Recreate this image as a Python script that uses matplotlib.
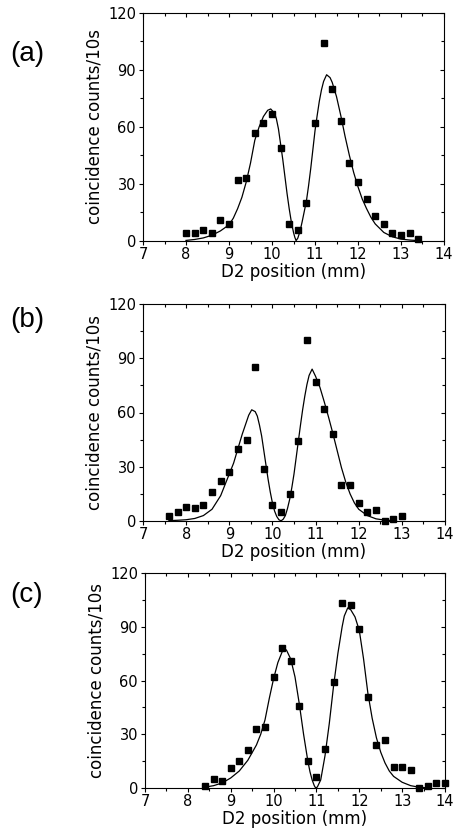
import numpy as np
import matplotlib.pyplot as plt
from matplotlib.ticker import MultipleLocator

xa = [8.0, 8.2, 8.4, 8.6, 8.8, 9.0, 9.2, 9.4, 9.6, 9.8, 10.0, 10.2, 10.4, 10.6,
      10.8, 11.0, 11.2, 11.4, 11.6, 11.8, 12.0, 12.2, 12.4, 12.6, 12.8, 13.0, 13.2, 13.4]
ya = [4, 4, 6, 4, 11, 9, 32, 33, 57, 62, 67, 49, 9, 6,
      20, 62, 104, 80, 63, 41, 31, 22, 13, 9, 4, 3, 4, 1]
fa_x = [8.0, 8.2, 8.4, 8.6, 8.8, 9.0, 9.1, 9.2, 9.3, 9.4, 9.5, 9.6, 9.7, 9.8, 9.9, 9.97,
        10.05, 10.1, 10.15, 10.2, 10.25, 10.3, 10.35, 10.4, 10.45, 10.5, 10.53, 10.56,
        10.6, 10.65, 10.7, 10.75, 10.8, 10.85, 10.9, 10.95, 11.0, 11.05, 11.1, 11.15,
        11.2, 11.27, 11.35, 11.4, 11.5, 11.6, 11.7, 11.8, 11.9, 12.0, 12.1, 12.2, 12.3,
        12.4, 12.6, 12.8, 13.0, 13.2, 13.4]
fa_y = [0.3, 0.8, 1.6, 3.0, 5.3, 8.5, 12, 17, 23, 31, 41, 53, 60, 65.5, 68.8, 69.5,
        67.5, 64.5, 59, 51, 43, 34, 25, 17, 10, 4.5, 2, 0.2,
        1.5, 5, 10, 15.5, 21, 29, 38, 48, 58, 66, 73.5, 79.5,
        84, 87.5, 86, 83.5, 76, 66, 55, 45, 36, 28.5, 22, 17, 12.5,
        9, 4.5, 2.2, 1, 0.5, 0.2]

xb = [7.6, 7.8, 8.0, 8.2, 8.4, 8.6, 8.8, 9.0, 9.2, 9.4, 9.6, 9.8, 10.0, 10.2,
      10.4, 10.6, 10.8, 11.0, 11.2, 11.4, 11.6, 11.8, 12.0, 12.2, 12.4, 12.6, 12.8, 13.0]
yb = [3, 5, 8, 7, 9, 16, 22, 27, 40, 45, 85, 29, 9, 5,
      15, 44, 100, 77, 62, 48, 20, 20, 10, 5, 6, 0, 1, 3]
fb_x = [7.6, 7.8, 8.0, 8.2, 8.4, 8.6, 8.8, 9.0, 9.1, 9.2, 9.3, 9.4, 9.45, 9.52, 9.6,
        9.65, 9.7, 9.75, 9.8, 9.85, 9.9, 9.95, 10.0, 10.05, 10.1, 10.15, 10.2, 10.25,
        10.3, 10.35, 10.4, 10.45, 10.5, 10.55, 10.6, 10.65, 10.7, 10.75, 10.8, 10.85,
        10.92, 11.0, 11.1, 11.2, 11.3, 11.4, 11.5, 11.6, 11.7, 11.8, 11.9, 12.0, 12.2,
        12.4, 12.6, 12.8]
fb_y = [0.2, 0.4, 0.7, 1.4, 3, 6.5, 14, 26, 32, 40, 48, 55, 58.5, 61.5, 60.5,
        58, 53, 47, 39, 31, 23, 16, 10, 5.5, 2.5, 0.7, 0.1, 1,
        3, 7, 12, 18.5, 26, 35, 44, 53, 61.5, 69, 75.5, 80.5,
        84, 80, 74, 66, 57.5, 48.5, 39, 29.5, 21.5, 15, 10, 6.5, 3,
        1.2, 0.5, 0.2]

xc = [8.4, 8.6, 8.8, 9.0, 9.2, 9.4, 9.6, 9.8, 10.0, 10.2, 10.4, 10.6, 10.8, 11.0,
      11.2, 11.4, 11.6, 11.8, 12.0, 12.2, 12.4, 12.6, 12.8, 13.0, 13.2, 13.4, 13.6,
      13.8, 14.0]
yc = [1, 5, 4, 11, 15, 21, 33, 34, 62, 78, 71, 46, 15, 6,
      22, 59, 103, 102, 89, 51, 24, 27, 12, 12, 10, 0, 1,
      3, 3]
fc_x = [8.4, 8.6, 8.8, 9.0, 9.2, 9.4, 9.6, 9.7, 9.8, 9.9, 10.0, 10.1, 10.2, 10.25,
        10.3, 10.4, 10.5, 10.6, 10.7, 10.8, 10.85, 10.9, 10.95, 10.98, 11.02, 11.1,
        11.2, 11.3, 11.4, 11.5, 11.6, 11.65, 11.73, 11.8, 11.9, 12.0, 12.1, 12.2, 12.3,
        12.4, 12.5, 12.6, 12.7, 12.8, 13.0, 13.2, 13.4, 13.6]
fc_y = [0.5, 1.3, 2.8, 5.6, 9.5, 15.5, 24, 30, 38, 50, 61, 70, 76, 77.5,
        77, 72, 62, 47, 30, 15, 9, 4.5, 1.3, 0.1, 0.5, 4.5,
        18, 36, 57, 75, 90, 96, 100.5, 99.5, 95.5, 88, 72, 53, 39,
        28, 20, 14, 9.5, 6.5, 3.2, 1.3, 0.4, 0.1]

paneles = [
    ('(a)', xa, ya, fa_x, fa_y, [143, 13, 444, 241], 54),
    ('(b)', xb, yb, fb_x, fb_y, [143, 304, 445, 521], 320),
    ('(c)', xc, yc, fc_x, fc_y, [145, 573, 445, 788], 595),
]

W, H = 453, 838
fig = plt.figure(figsize=(W / 100, H / 100), dpi=100)
plt.rcParams['font.family'] = 'DejaVu Sans'

for letra, x, y, fx, fy, caja, ly in paneles:
    l, t, r, b = caja
    ax = fig.add_axes([l / W, 1 - b / H, (r - l) / W, (b - t) / H])
    ax.plot(fx, fy, color='black', lw=0.9)
    ax.plot(x, y, 's', color='black', ms=4.2, clip_on=False, zorder=3)

    ax.set_xlim(7, 14)
    ax.set_ylim(0, 120)
    ax.xaxis.set_major_locator(MultipleLocator(1))
    ax.xaxis.set_minor_locator(MultipleLocator(0.5))
    ax.yaxis.set_major_locator(MultipleLocator(30))
    ax.yaxis.set_minor_locator(MultipleLocator(15))

    ax.tick_params(which='both', top=True, right=True, width=0.8, labelsize=10.5)
    ax.tick_params(axis='x', which='major', direction='out', length=3, pad=1.5)
    ax.tick_params(axis='x', which='minor', direction='out', length=2)
    ax.tick_params(axis='y', which='major', direction='out', length=3, pad=2)
    ax.tick_params(axis='y', which='minor', direction='out', length=2)
    # los ticks de arriba y derecha van hacia dentro
    for t_ in ax.xaxis.get_major_ticks() + ax.xaxis.get_minor_ticks():
        t_.tick2line.set_marker(3)
    for t_ in ax.yaxis.get_major_ticks() + ax.yaxis.get_minor_ticks():
        t_.tick2line.set_marker(0)
    for s in ax.spines.values():
        s.set_linewidth(0.8)

    ax.set_xlabel('D2 position (mm)', fontsize=12, labelpad=0.5)
    ax.set_ylabel('coincidence counts/10s', fontsize=12, labelpad=3)

    fig.text(27 / W, 1 - ly / H, letra, fontsize=20, family='Liberation Sans',
             ha='center', va='center')

fig.savefig('out.png', dpi=100)
